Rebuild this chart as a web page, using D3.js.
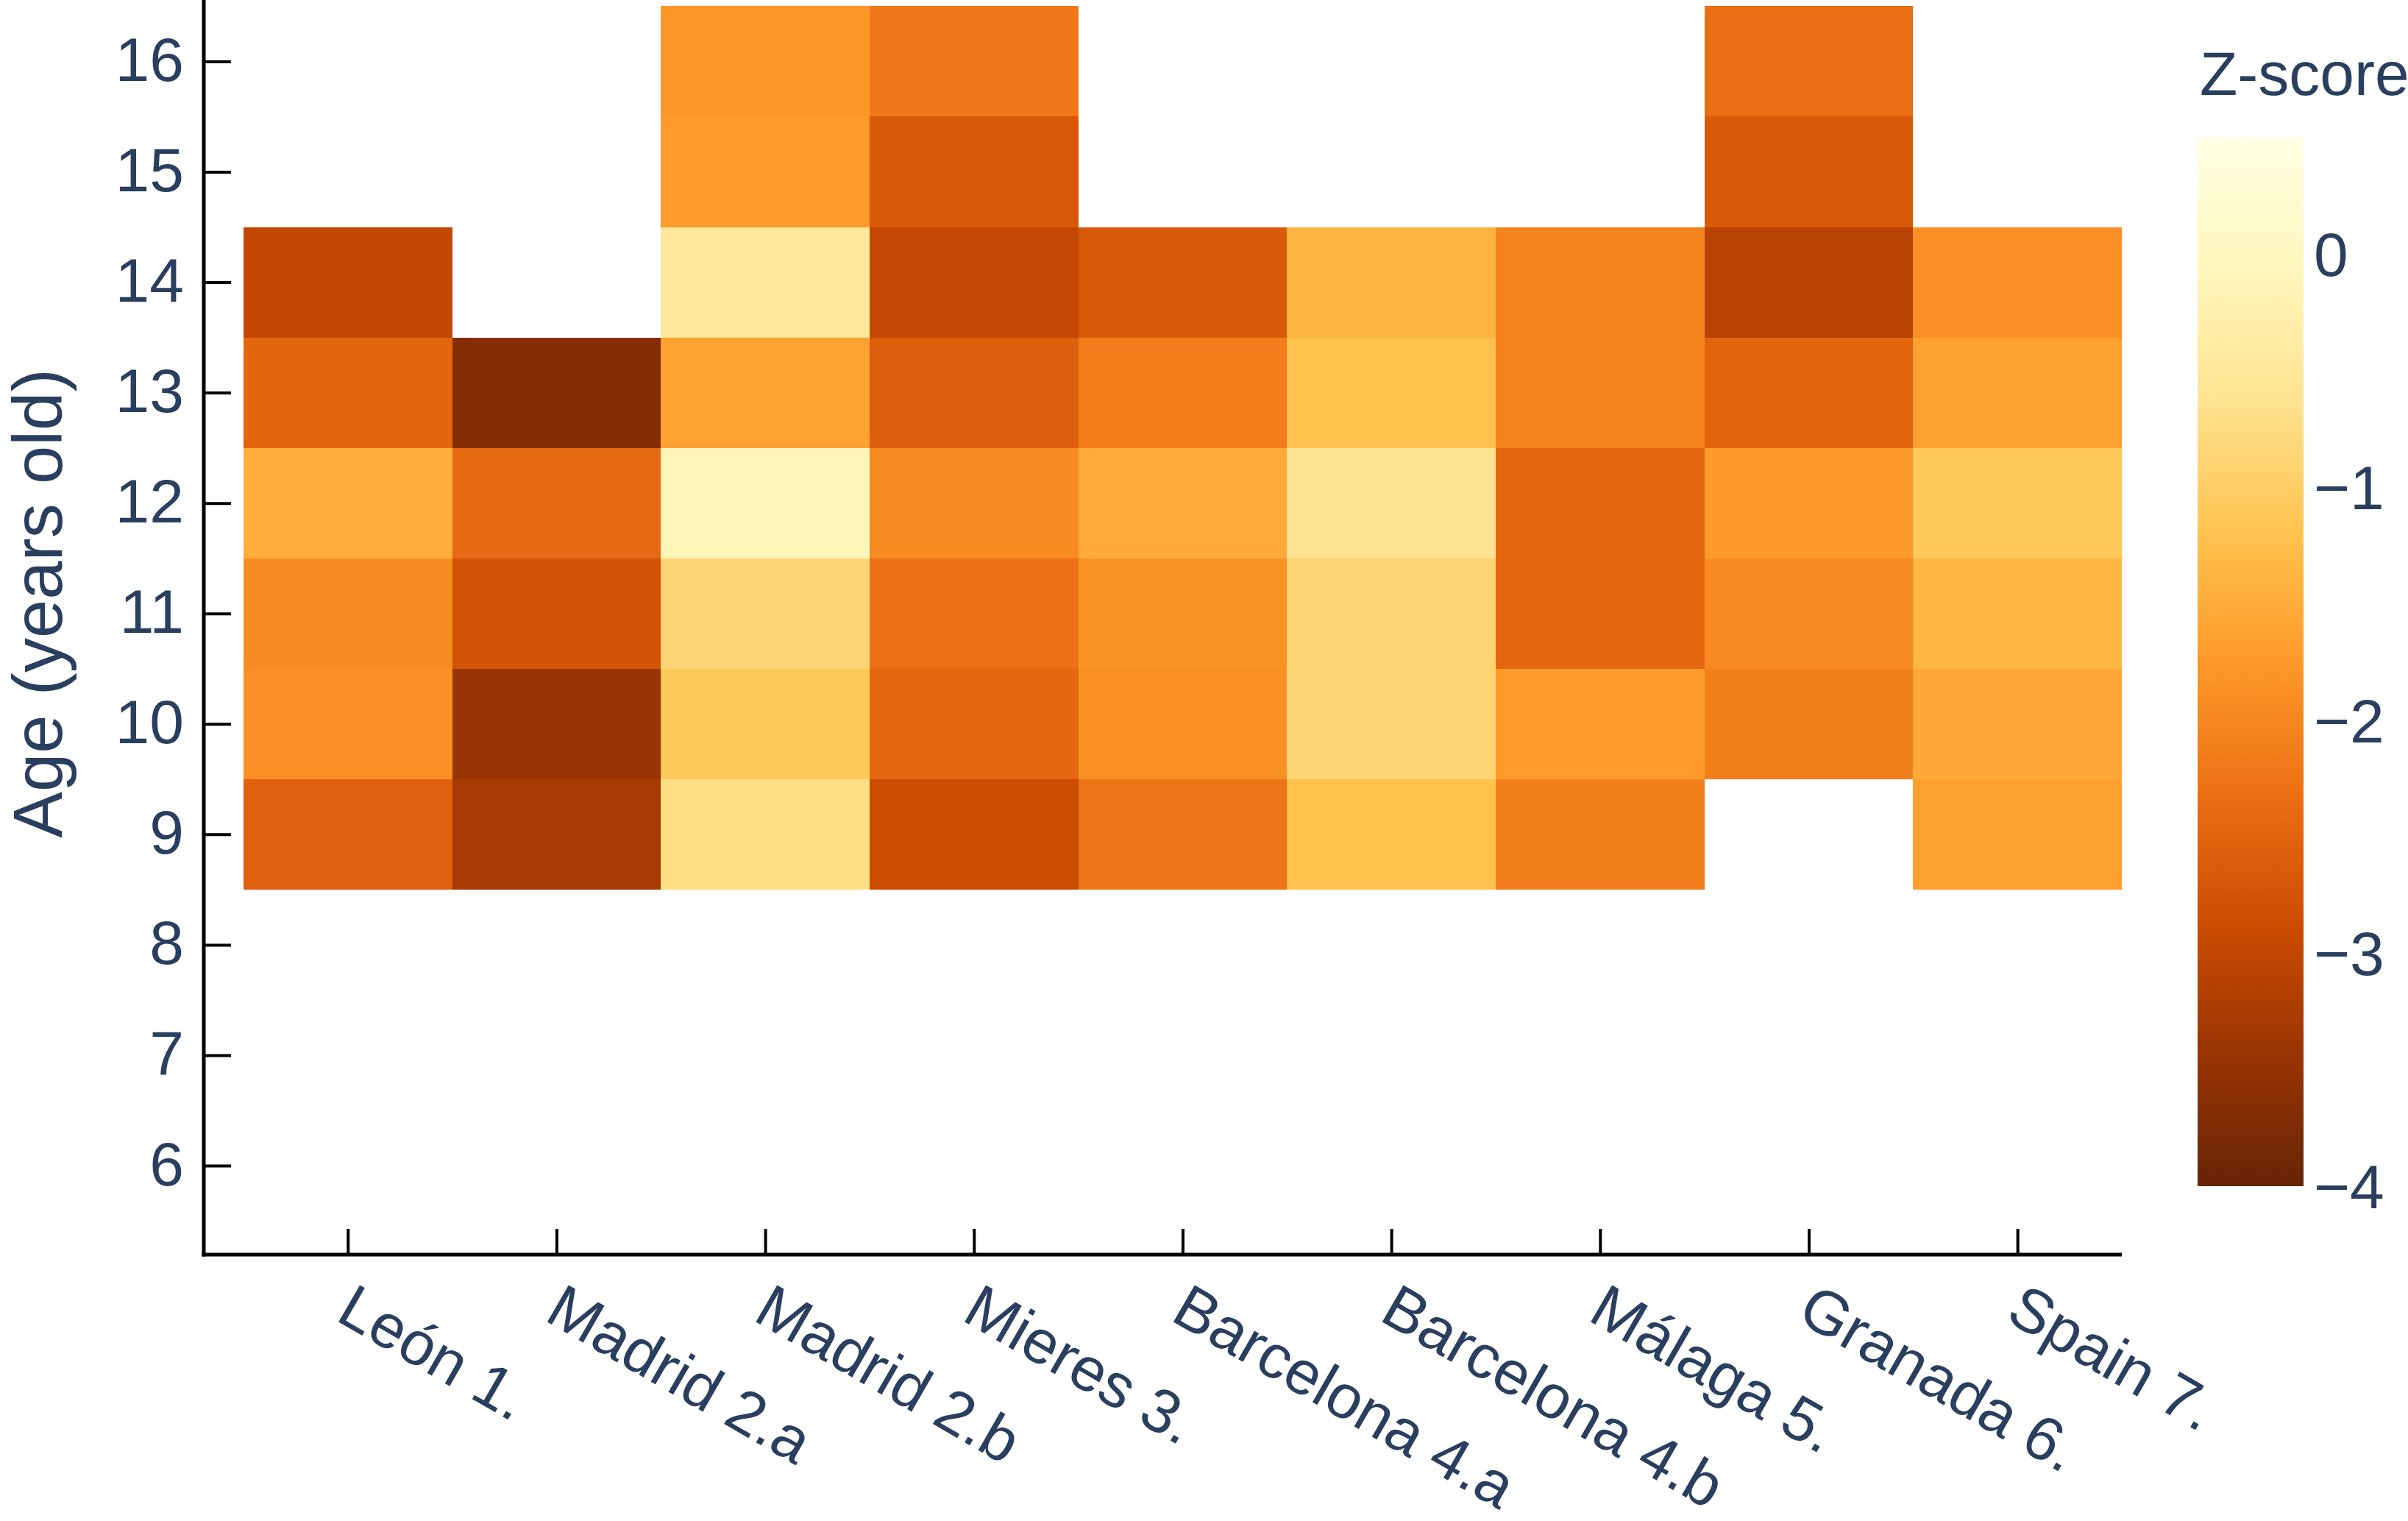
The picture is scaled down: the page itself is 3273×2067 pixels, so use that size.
<!DOCTYPE html>
<html>
<head>
<meta charset="utf-8">
<script src="https://cdn.jsdelivr.net/npm/d3@7"></script>
<style>
  html, body { margin: 0; padding: 0; background: #fff; }
  svg text { font-family: Arial, "Liberation Sans", sans-serif; fill: #2a3f5f; }
</style>
</head>
<body>
<div id="chart"></div>
<script>
// sites along x, ages along y
var sites = ["León 1.", "Madrid 2.a", "Madrid 2.b", "Mieres 3.", "Barcelona 4.a",
             "Barcelona 4.b", "Málaga 5.", "Granada 6.", "Spain 7."];
var ages = [9, 10, 11, 12, 13, 14, 15, 16];
var ageTicks = [6, 7, 8, 9, 10, 11, 12, 13, 14, 15, 16];
var zTicks = [0, -1, -2, -3, -4];

// z-score per age (9..16), null = no data
var zLeon      = [-2.54, -1.87, -1.95, -1.48, -2.47, -2.98, null, null];
var zMadridA   = [-3.28, -3.44, -2.77, -2.41, -3.66, null, null, null];
var zMadridB   = [-0.71, -1.09, -0.87, -0.12, -1.63, -0.52, -1.72, -1.78];
var zMieres    = [-2.88, -2.44, -2.30, -1.96, -2.58, -2.96, -2.66, -2.20];
var zBarcelA   = [-2.25, -1.89, -1.85, -1.51, -2.14, -2.64, null, null];
var zBarcelB   = [-1.21, -0.88, -0.87, -0.61, -1.22, -1.40, null, null];
var zMalaga    = [-2.11, -1.73, -2.44, -2.44, -2.07, -2.07, null, null];
var zGranada   = [null, -2.10, -1.96, -1.74, -2.47, -3.09, -2.64, -2.35];
var zSpain     = [-1.66, -1.55, -1.36, -1.09, -1.66, -1.87, null, null];

var zColumns = [zLeon, zMadridA, zMadridB, zMieres, zBarcelA, zBarcelB, zMalaga, zGranada, zSpain];

// YlOrBr, dark at the low end
var colorStops = ["#662506", "#993404", "#cc4c02", "#ec7014", "#fe9929",
                  "#fec44f", "#fee391", "#fff7bc", "#ffffe5"];
var zMin = -4, zMax = 0.5;

var W = 3273, H = 2067;
var plot = {left: 277, right: 2884, top: 0, bottom: 1705};

var svg = d3.select("#chart")
  .append("svg")
  .attr("width", W)
  .attr("height", H);

var x = d3.scaleLinear().domain([-0.69, 8.5]).range([plot.left, plot.right]);
var y = d3.scaleLinear().domain([5.194, 16.556]).range([plot.bottom, plot.top]);

var color = d3.scaleLinear()
  .domain(colorStops.map(function(c, i){ return zMin + (zMax - zMin) * i / (colorStops.length - 1); }))
  .range(colorStops)
  .interpolate(d3.interpolateRgb);

var cells = [];
zColumns.forEach(function(col, i){
  col.forEach(function(v, j){
    if (v !== null) cells.push({site: i, age: ages[j], z: v});
  });
});

svg.append("g").selectAll("rect")
  .data(cells)
  .enter()
  .append("rect")
  .attr("x", function(d){ return x(d.site - 0.5); })
  .attr("y", function(d){ return y(d.age + 0.5); })
  .attr("width", function(d){ return x(d.site + 0.5) - x(d.site - 0.5); })
  .attr("height", function(d){ return y(d.age - 0.5) - y(d.age + 0.5); })
  .attr("fill", function(d){ return color(d.z); })
  .attr("shape-rendering", "crispEdges");

// y axis
var yAxis = svg.append("g")
  .attr("transform", "translate(" + plot.left + ",0)")
  .call(d3.axisLeft(y).tickValues(ageTicks).tickSizeInner(-37).tickSizeOuter(0).tickPadding(27));
yAxis.select(".domain").remove();
yAxis.selectAll(".tick line").attr("stroke", "#000").attr("stroke-width", 4);
yAxis.selectAll(".tick text")
  .attr("font-size", 84)
  .attr("dy", null)
  .attr("y", 26)
  .style("fill", "#2a3f5f");

// x axis
var xAxis = svg.append("g")
  .attr("transform", "translate(0," + plot.bottom + ")")
  .call(d3.axisBottom(x).tickValues(d3.range(sites.length)).tickFormat(function(i){ return sites[i]; })
        .tickSizeInner(-35).tickSizeOuter(0));
xAxis.select(".domain").remove();
xAxis.selectAll(".tick line").attr("stroke", "#000").attr("stroke-width", 4);
xAxis.selectAll(".tick text")
  .attr("font-size", 84)
  .attr("y", null)
  .attr("dy", null)
  .attr("text-anchor", "start")
  .attr("transform", "translate(-19,88) rotate(30)")
  .style("fill", "#2a3f5f");

// axis lines
svg.append("line")
  .attr("x1", plot.left).attr("x2", plot.left)
  .attr("y1", plot.top).attr("y2", plot.bottom + 2.5)
  .attr("stroke", "#000").attr("stroke-width", 5);
svg.append("line")
  .attr("x1", plot.left - 2.5).attr("x2", plot.right)
  .attr("y1", plot.bottom).attr("y2", plot.bottom)
  .attr("stroke", "#000").attr("stroke-width", 5);

// y title
svg.append("text")
  .attr("transform", "translate(84,820) rotate(-90)")
  .attr("text-anchor", "middle")
  .attr("font-size", 94)
  .text("Age (years old)");

// colorbar
var cb = {x: 2987, w: 144};
var cy = d3.scaleLinear().domain([zMin, zMax]).range([1612, 187]);

var grad = svg.append("defs").append("linearGradient")
  .attr("id", "zgrad")
  .attr("x1", 0).attr("y1", 1).attr("x2", 0).attr("y2", 0);
grad.selectAll("stop")
  .data(colorStops)
  .enter()
  .append("stop")
  .attr("offset", function(d, i){ return i / (colorStops.length - 1); })
  .attr("stop-color", function(d){ return d; });

svg.append("rect")
  .attr("x", cb.x)
  .attr("y", cy(zMax))
  .attr("width", cb.w)
  .attr("height", cy(zMin) - cy(zMax))
  .attr("fill", "url(#zgrad)");

svg.append("g").selectAll("text")
  .data(zTicks)
  .enter()
  .append("text")
  .attr("x", 3145)
  .attr("y", function(d){ return cy(d) + 30; })
  .attr("font-size", 84)
  .text(function(d){ return d < 0 ? "\u2212" + Math.abs(d) : d; });

svg.append("text")
  .attr("x", 2990)
  .attr("y", 129)
  .attr("font-size", 84)
  .text("Z-score");
</script>
</body>
</html>
